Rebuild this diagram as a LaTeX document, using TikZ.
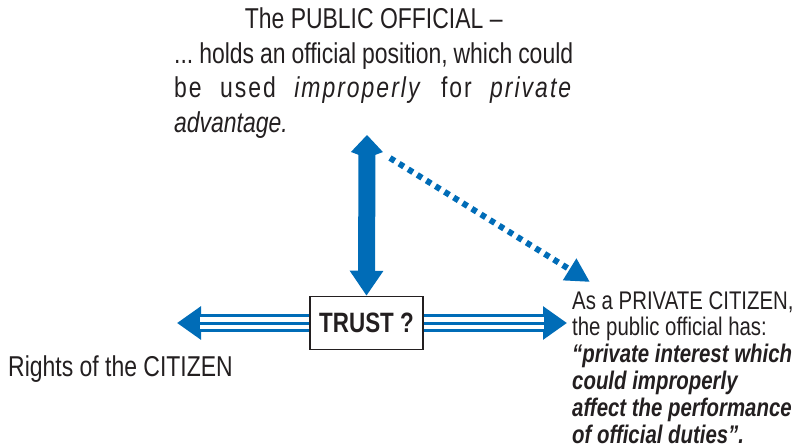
\documentclass[tikz,border=0pt]{standalone}
\usepackage{xcolor}
\usepackage{fontspec}
\setmainfont[FakeStretch=0.8]{Liberation Sans}
\usetikzlibrary{arrows.meta,positioning}
\definecolor{trustblue}{RGB}{0,108,183}
\definecolor{inkgray}{RGB}{35,31,32}
\frenchspacing

\begin{document}
\begin{tikzpicture}[x=1pt,y=-1pt,
		every node/.style={text=inkgray, inner sep=0pt},
		bigarrow/.style={trustblue, line width=17pt, {Kite[length=23pt,width=32pt,inset=6pt]}-{Triangle[length=25pt,width=32pt]}},
		dotarrow/.style={trustblue, line width=6pt, dash pattern=on 5.5pt off 5.2pt, -{Triangle[length=24pt,width=24pt]}},
		tripline/.style={trustblue, line width=18pt, -{Triangle[length=24pt,width=32pt]},
			postaction={draw=white, line width=12pt, -, shorten >=23pt},
			postaction={draw=trustblue, line width=3pt, -, shorten >=23pt}},
		trustbox/.style={draw=inkgray, line width=1.5pt, fill=white, minimum width=113pt, minimum height=53pt, font=\fontsize{28}{30}\selectfont\bfseries}]
		\useasboundingbox (0,0) rectangle (798,447);
		% texts
		\node[anchor=north west, text width=399pt, align=justify, font=\fontsize{28.7}{34.5}\selectfont] (pubtext) at (174,8)
			{\noindent\makebox[\linewidth]{The PUBLIC OFFICIAL --}\par
			\noindent ... holds an official position, which could\linebreak {\addfontfeature{LetterSpace=7}be used \textit{improperly} for \textit{private}}\linebreak \textit{advantage.}};
		\node[anchor=north west, align=left, font=\fontsize{25.5}{26.8}\selectfont] (private) at (572,291)
			{As a PRIVATE CITIZEN,\\the public official has:\\\bfseries\itshape ``private interest which\\\bfseries\itshape could improperly\\\bfseries\itshape affect the performance\\\bfseries\itshape of official duties''.};
		\node[anchor=base west, font=\fontsize{28.7}{30}\selectfont] (rights) at (8,376) {Rights of the CITIZEN};
		\node[trustbox] (trust) at (366.5,323) {TRUST ?};
		% arrow ends
		\coordinate (pubtip) at (367,135);
		\coordinate (dotstart) at (390,158);
		\coordinate (privtip) at (590,282);
		\coordinate (lefttip) at (177,323);
		\coordinate (righttip) at (567,323);
		% arrows
		\draw[tripline] (trust.west) -- (lefttip);
		\draw[tripline] (trust.east) -- (righttip);
		\draw[bigarrow] (pubtip) -- (trust.north);
		\draw[dotarrow] (dotstart) -- (privtip);
	\end{tikzpicture}
\end{document}
